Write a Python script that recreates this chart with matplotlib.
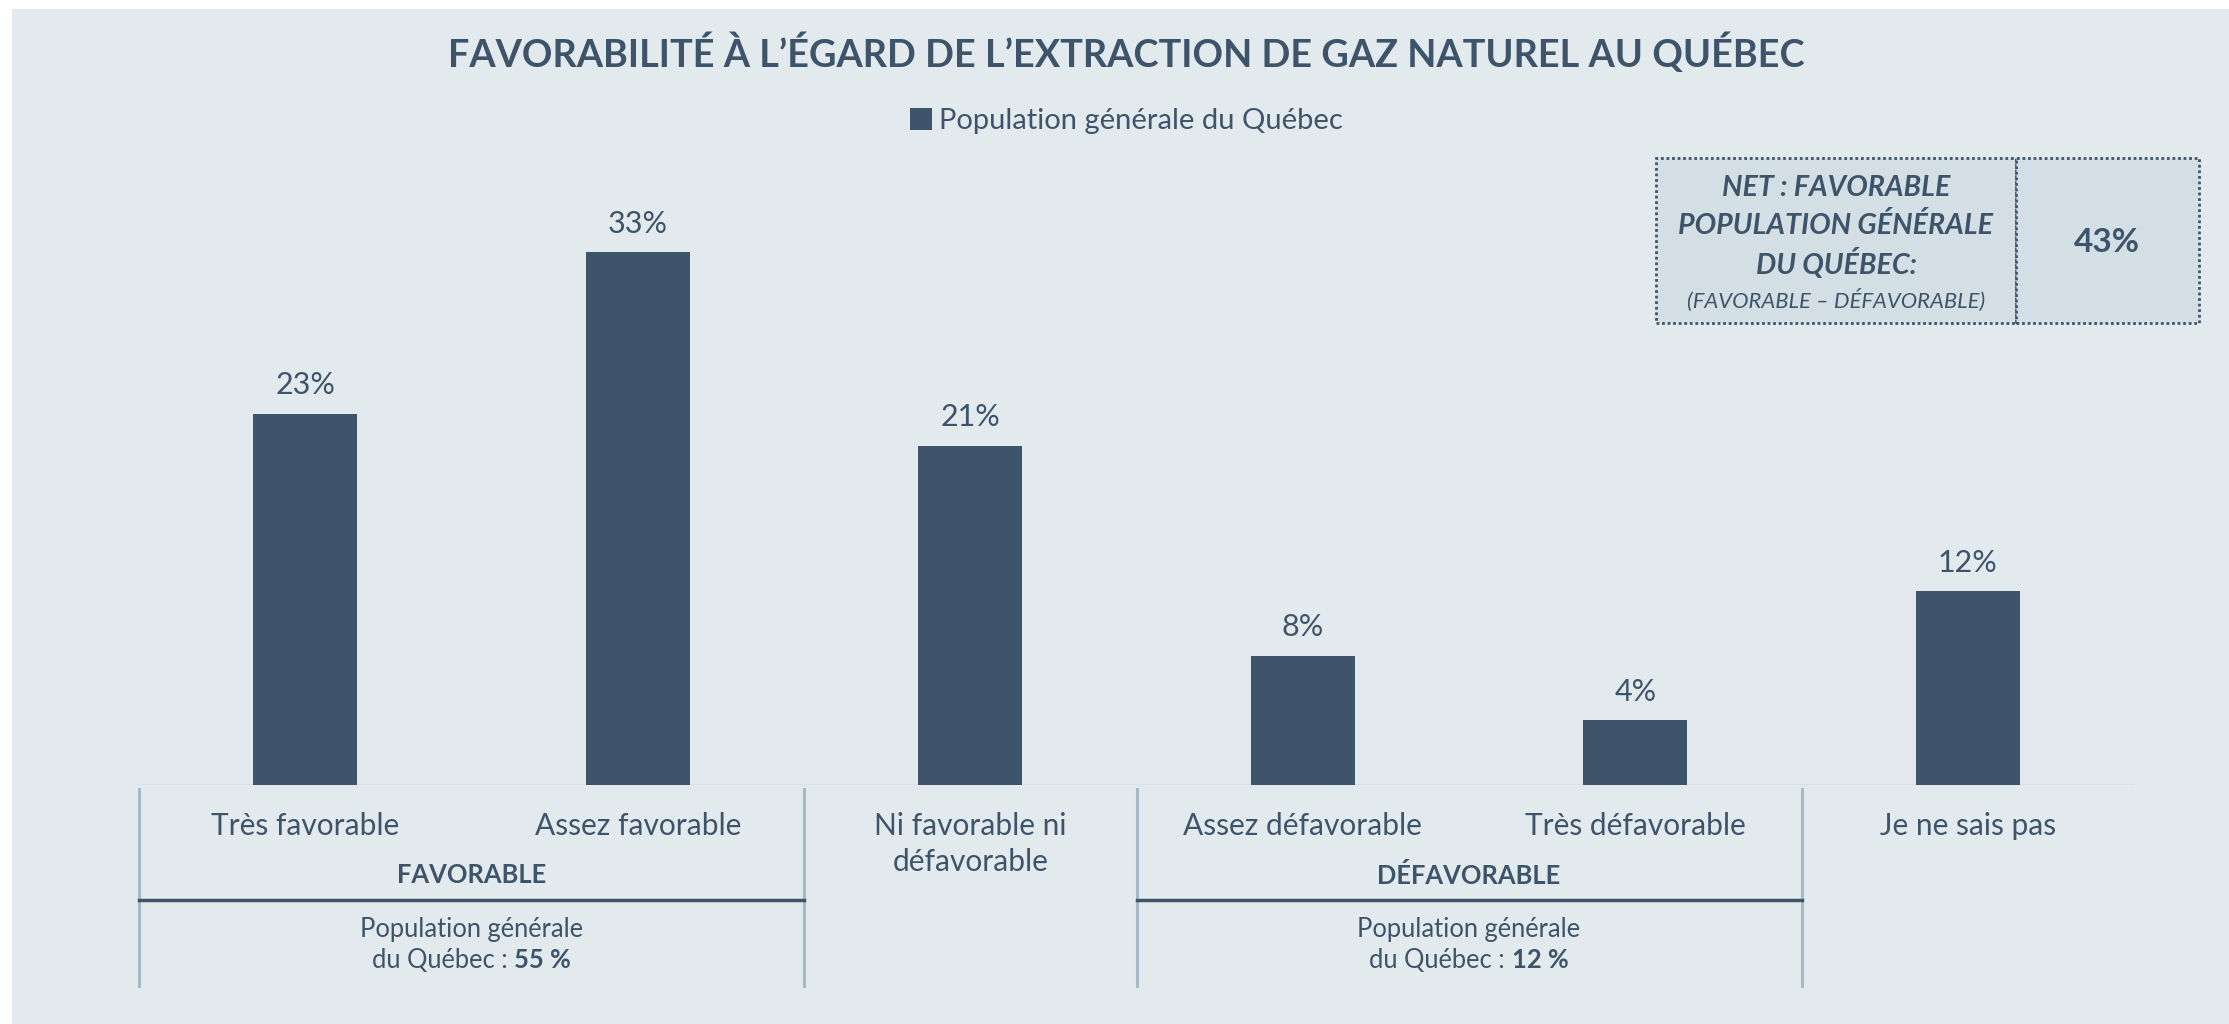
import matplotlib.pyplot as plt
from matplotlib.patches import Rectangle
from matplotlib.lines import Line2D
from matplotlib.transforms import blended_transform_factory
from matplotlib.offsetbox import TextArea, HPacker, AnnotationBbox

categories = ["Très favorable", "Assez favorable", "Ni favorable ni\ndéfavorable",
              "Assez défavorable", "Très défavorable", "Je ne sais pas"]
values = [23, 33, 21, 8, 4, 12]
series_name = "Population générale du Québec"
groups = ["FAVORABLE", "DÉFAVORABLE"]
group_spans = [(0, 1), (3, 4)]
group_totals = [55, 12]
net_value = 43

BG = "#e2eaee"
DARK = "#3e546a"
SEP = "#a6bac8"
BOXFILL = "#d3dee5"
FONT = "Lato"

W, H = 2229, 1024


def fy(px):
    # pixel row from top -> figure fraction
    return 1 - px / H


def main():
    fig = plt.figure(figsize=(W / 100, H / 100), dpi=100)
    fig.patch.set_facecolor("white")
    fig.patches.append(Rectangle((12 / W, 0), 1, fy(9), transform=fig.transFigure,
                                 facecolor=BG, edgecolor="none", zorder=-10))

    ax = fig.add_axes([139 / W, fy(785), 1995 / W, 565 / H])
    ax.set_facecolor("none")
    x = list(range(len(categories)))
    bars = ax.bar(x, values, width=0.312, color=DARK, label=series_name, zorder=3)
    ax.set_xlim(-0.5, len(categories) - 0.5)
    ax.set_ylim(0, 35)
    for b, v in zip(bars, values):
        ax.text(b.get_x() + b.get_width() / 2, v + 0.9, f"{v}%", ha="center", va="bottom",
                fontsize=22, color=DARK, family=FONT)
    for s in ax.spines.values():
        s.set_visible(False)
    ax.set_xticks([])
    ax.set_yticks([])
    ax.axhline(0, color="#d6e0e6", lw=1.2, zorder=1)

    tr = blended_transform_factory(ax.transData, fig.transFigure)

    # category labels
    for i, c in enumerate(categories):
        lines = c.split("\n")
        for k, line in enumerate(lines):
            ax.text(i, fy(826 + 36 * k), line, transform=tr, ha="center", va="center",
                    fontsize=21.5, color=DARK, family=FONT)

    # vertical separators
    for xs in [-0.5, 1.5, 2.5, 4.5]:
        fig.add_artist(Line2D([xs, xs], [fy(789), fy(986)], transform=tr, color=SEP, lw=2.2))

    # group brackets
    for g, (a, b), tot in zip(groups, group_spans, group_totals):
        mid = (a + b) / 2
        ax.text(mid, fy(875), g, transform=tr, ha="center", va="center",
                fontsize=18.4, color=DARK, family=FONT, fontweight="bold")
        fig.add_artist(Line2D([a - 0.5, b + 0.5], [fy(900), fy(900)], transform=tr,
                              color=DARK, lw=2.5))
        ax.text(mid, fy(929), "Population générale", transform=tr, ha="center", va="center",
                fontsize=18.4, color=DARK, family=FONT)
        t1 = TextArea("du Québec :", textprops=dict(fontsize=18.4, color=DARK, family=FONT))
        t2 = TextArea(f"{tot} %", textprops=dict(fontsize=18.4, color=DARK, family=FONT,
                                                  fontweight="bold"))
        pack = HPacker(children=[t1, t2], pad=0, sep=5, align="baseline")
        ab = AnnotationBbox(pack, (mid, fy(961)), xycoords=tr, frameon=False,
                            box_alignment=(0.5, 0.5))
        fig.add_artist(ab)

    # title and legend
    fig.text(0.5055, fy(53), "FAVORABILITÉ À L’ÉGARD DE L’EXTRACTION DE GAZ NATUREL AU QUÉBEC",
             ha="center", va="center", fontsize=27.3, fontweight="bold", color=DARK, family=FONT)
    leg = fig.legend(handles=[bars], labels=[series_name], loc="center",
                     bbox_to_anchor=(0.5055, fy(121)), frameon=False, handlelength=0.75,
                     handleheight=0.75, handletextpad=0.25, prop=dict(family=FONT, size=21))
    for t in leg.get_texts():
        t.set_color(DARK)

    # net box
    for x0, x1 in [(1656, 2016), (2016, 2199)]:
        fig.patches.append(Rectangle((x0 / W, fy(323)), (x1 - x0) / W, 165 / H,
                                     transform=fig.transFigure, facecolor=BOXFILL,
                                     edgecolor=DARK, lw=2, linestyle=(0, (1, 1))))
    for txt, ypx in [("NET : FAVORABLE", 188), ("POPULATION GÉNÉRALE", 226), ("DU QUÉBEC:", 264)]:
        fig.text(1836 / W, fy(ypx), txt, ha="center", va="center", fontsize=20.6,
                 fontweight="bold", style="italic", color=DARK, family=FONT)
    fig.text(1836 / W, fy(300), "(FAVORABLE – DÉFAVORABLE)", ha="center", va="center",
             fontsize=15.8, style="italic", color=DARK, family=FONT)
    fig.text(2107 / W, fy(242), f"{net_value}%", ha="center", va="center", fontsize=24,
             fontweight="bold", color=DARK, family=FONT)

    fig.savefig("out.png", dpi=100, facecolor=fig.get_facecolor())


if __name__ == "__main__":
    main()
